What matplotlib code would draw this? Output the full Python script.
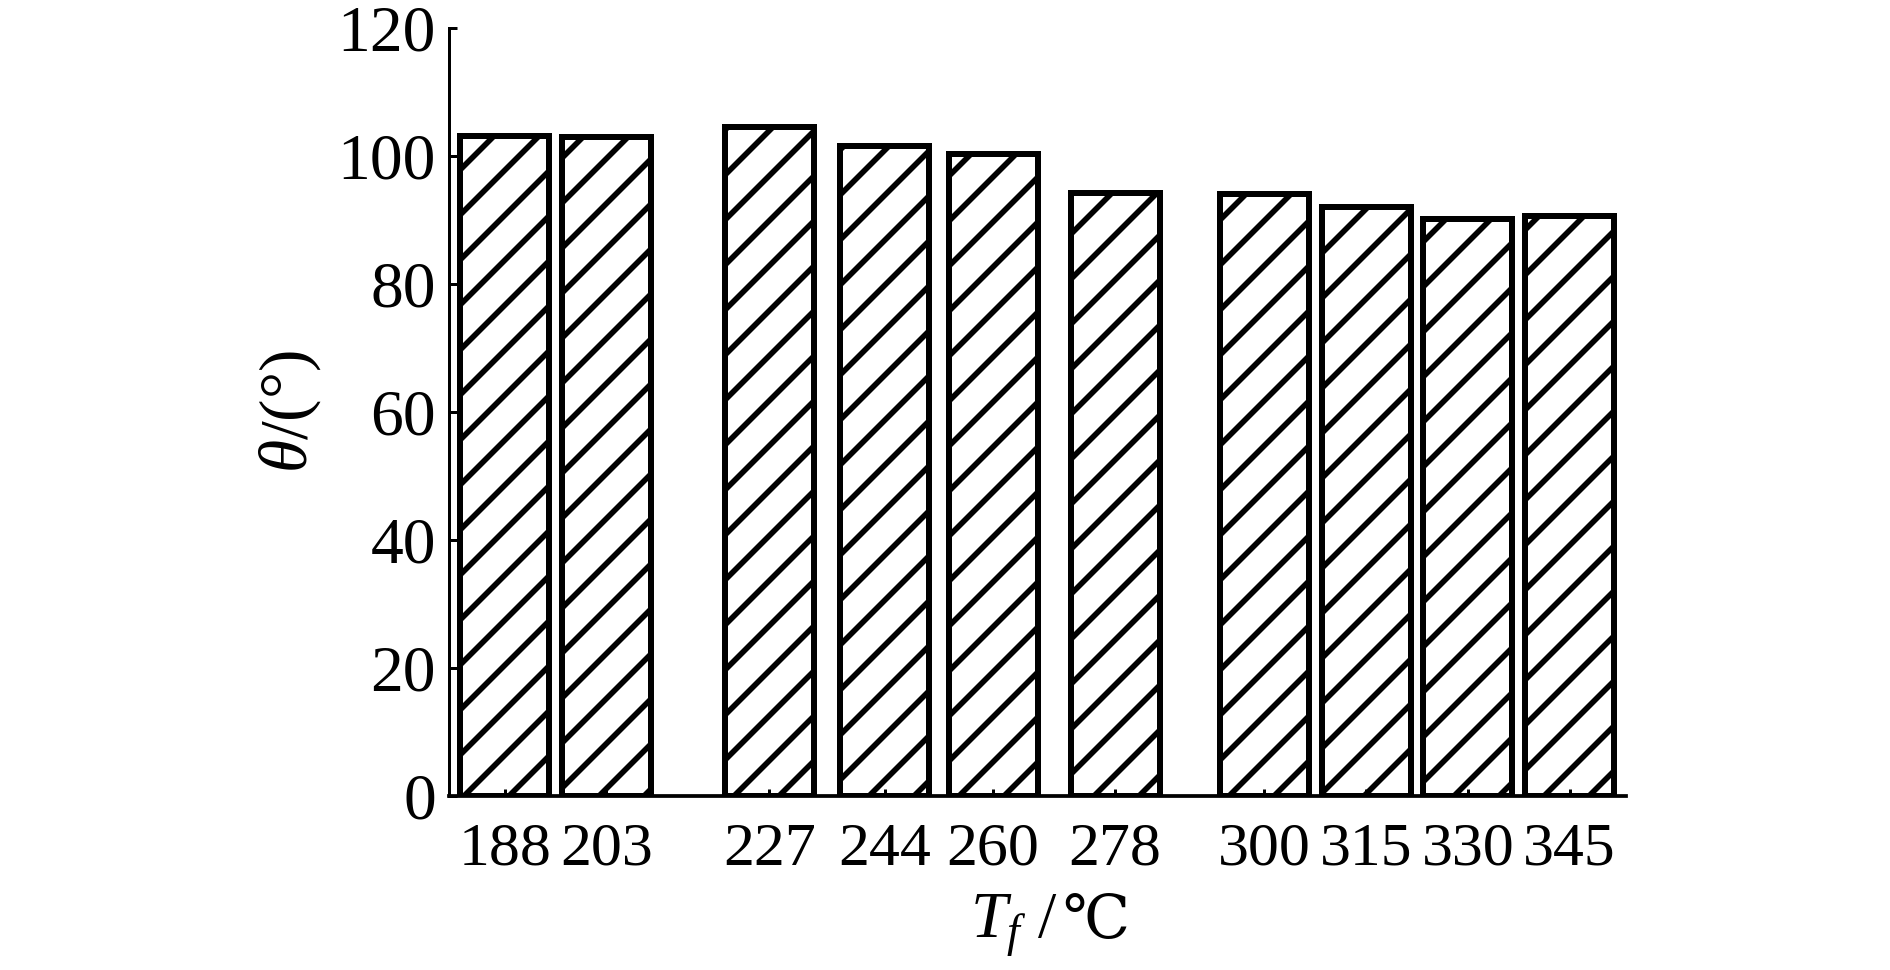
import matplotlib
matplotlib.use("Agg")
import matplotlib.pyplot as plt

# fibre temperature (degC) and contact angle (deg)
temps = [188, 203, 227, 244, 260, 278, 300, 315, 330, 345]
theta = [103.2, 102.9, 104.6, 101.5, 100.3, 94.2, 94.1, 92.0, 90.2, 90.6]
y_ticks = [0, 20, 40, 60, 80, 100, 120]

plt.rcParams['font.family'] = ['Liberation Serif', 'DejaVu Serif']
plt.rcParams['mathtext.fontset'] = 'custom'
plt.rcParams['mathtext.rm'] = 'Liberation Serif'
plt.rcParams['mathtext.it'] = 'Liberation Serif:italic'
plt.rcParams['hatch.linewidth'] = 1.5
plt.rcParams['hatch.color'] = 'black'

# dpi 270 so the '//' hatch spacing matches the reference
fig = plt.figure(figsize=(7.0, 970 / 270), dpi=270)
ax = fig.add_axes([0.2376, 0.1794, 0.8603 - 0.2376, 0.9711 - 0.1794])

ax.bar(temps, theta, width=13.1, color='white', edgecolor='black',
       linewidth=1.6, hatch='//')

ax.set_xlim(179.8, 353.3)
ax.set_ylim(0, 120)
ax.set_xticks(temps)
ax.set_xticklabels([str(t) for t in temps])
ax.set_yticks(y_ticks)

for s in ['top', 'right']:
    ax.spines[s].set_visible(False)
ax.spines['left'].set_linewidth(0.8)
ax.spines['bottom'].set_linewidth(1.0)

ax.tick_params(axis='y', direction='in', length=2.1, width=0.8, pad=3.5, labelsize=17.5)
ax.tick_params(axis='x', direction='in', length=1.9, width=0.8, pad=7.0, labelsize=16.5)

ax.set_ylabel(r'$\theta$/(°)', fontsize=18, labelpad=4)

# x label: italic T_f in mathtext, the degree-Celsius sign as plain text
ax.text(0.5166, -0.185, r'$T_f$ /', transform=ax.transAxes, ha='right',
        va='baseline', fontsize=17.5)
ax.annotate('℃', xy=(0.5166, -0.185), xycoords='axes fraction',
            xytext=(1.5, 0), textcoords='offset points', ha='left',
            va='baseline', fontsize=16, family=['DejaVu Serif', 'DejaVu Sans'])

fig.savefig("out.png", dpi=270)
